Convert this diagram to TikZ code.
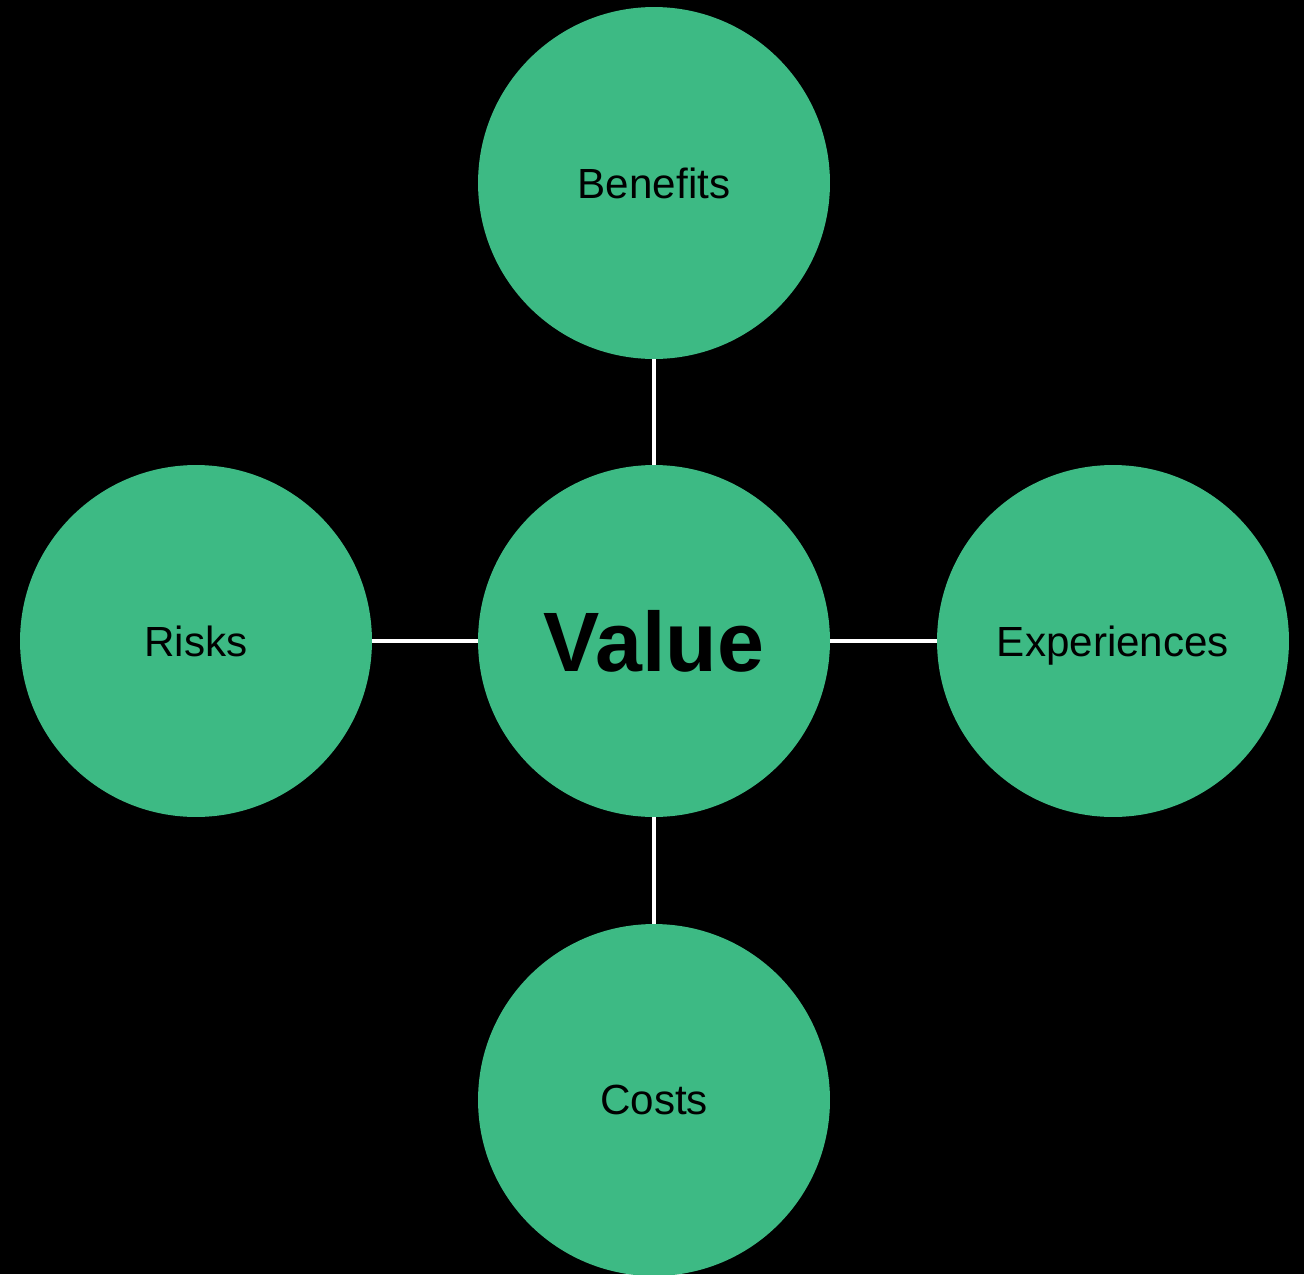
\documentclass[tikz,border=0pt]{standalone}
\usepackage{fontspec}
\setmainfont{Liberation Sans}
\definecolor{valuegreen}{RGB}{61,186,132}
\begin{document}
\begin{tikzpicture}[x=0.02cm,y=-0.02cm,
  bubble/.style={circle,fill=valuegreen,minimum size=7.04cm,inner sep=0pt,text depth=0pt,font=\fontsize{24}{28}\selectfont}]
\fill[black] (0,0) rectangle (1304,1274);
\useasboundingbox (0,0) rectangle (1304,1274);
\node[bubble,font=\fontsize{48}{56}\selectfont\bfseries] (value) at (654,641) {Value};
\foreach \name/\x/\y/\txt in {benefits/654/183/Benefits, experiences/1113/641/Experiences, costs/654/1100/Costs, risks/196/641/Risks}{
\node[bubble] (\name) at (\x,\y) {\txt};
\draw[white,line width=2pt] (value) -- (\name);
}
\end{tikzpicture}
\end{document}
